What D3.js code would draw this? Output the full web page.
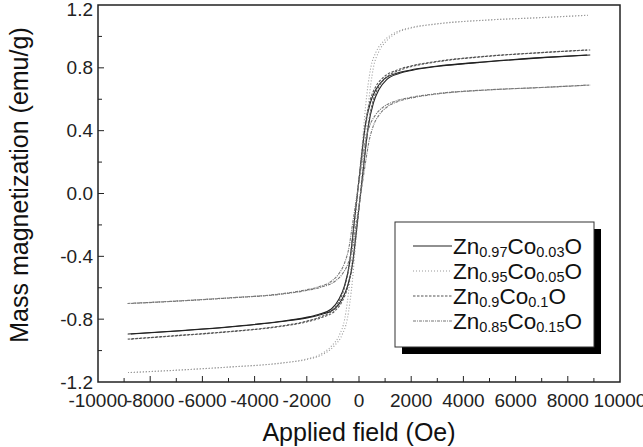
<!DOCTYPE html>
<html>
<head>
<meta charset="utf-8">
<title>M-H loops</title>
<style>
  body { margin: 0; background: #fff; }
  svg { display: block; font-family: "Liberation Sans", Arial, sans-serif; }
</style>
</head>
<body>
<script src="https://cdn.jsdelivr.net/npm/d3@7"></script>
<script>
// applied field grid (Oe) and magnetization (emu/g)
var field = [-8800, -7000, -5000, -3000, -2000, -1500, -1000, -700, -500, -300, -200, -100, 0,
             100, 200, 300, 500, 700, 1000, 1500, 2000, 3000, 5000, 7000, 8800];

var m003 = [-0.895, -0.875, -0.85, -0.815, -0.79, -0.77, -0.735, -0.67, -0.59, -0.44, -0.30, -0.15, 0,
            0.15, 0.30, 0.43, 0.58, 0.66, 0.725, 0.765, 0.785, 0.81, 0.84, 0.865, 0.882];
var m005 = [-1.14, -1.125, -1.105, -1.08, -1.055, -1.03, -0.97, -0.90, -0.80, -0.55, -0.36, -0.18, 0,
            0.18, 0.36, 0.55, 0.80, 0.90, 0.97, 1.03, 1.055, 1.08, 1.105, 1.12, 1.135];
var m010 = [-0.927, -0.905, -0.88, -0.845, -0.815, -0.79, -0.75, -0.685, -0.60, -0.44, -0.30, -0.15, 0,
            0.15, 0.30, 0.44, 0.60, 0.68, 0.74, 0.785, 0.81, 0.84, 0.875, 0.897, 0.914];
var m015 = [-0.70, -0.685, -0.665, -0.64, -0.615, -0.595, -0.56, -0.51, -0.45, -0.33, -0.22, -0.11, 0,
            0.11, 0.22, 0.32, 0.44, 0.50, 0.55, 0.59, 0.61, 0.635, 0.66, 0.675, 0.69];

// coercive field of each loop (Oe)
var coercivity = [60, 50, 60, 70];

var labels = [
  ["Zn", "0.97", "Co", "0.03", "O"],
  ["Zn", "0.95", "Co", "0.05", "O"],
  ["Zn", "0.9", "Co", "0.1", "O"],
  ["Zn", "0.85", "Co", "0.15", "O"]
];

var xTicks = [-10000, -8000, -6000, -4000, -2000, 0, 2000, 4000, 6000, 8000, 10000];
var yTicks = [-1.2, -0.8, -0.4, 0.0, 0.4, 0.8, 1.2];

var styles = [
  { stroke: "#222", dash: null, width: 1.1 },
  { stroke: "#999", dash: "1,2", width: 1.1 },
  { stroke: "#555", dash: "2.5,1.5", width: 1.1 },
  { stroke: "#777", dash: "3,1,1,1", width: 1.1 }
];

var W = 643, H = 447;
var x0 = 98, x1 = 620, y0 = 5, y1 = 382;

var svg = d3.select("body").append("svg")
    .attr("width", W)
    .attr("height", H);

var x = d3.scaleLinear().domain([-10000, 10000]).range([x0, x1]);
var y = d3.scaleLinear().domain([-1.2, 1.2]).range([y1, y0]);

// curves
var series = [m003, m005, m010, m015];
var line = d3.line()
    .x(function(d) { return x(d[0]); })
    .y(function(d) { return y(d[1]); })
    .curve(d3.curveMonotoneX);

series.forEach(function(m, i) {
  var hc = coercivity[i];
  var down = field.map(function(h, j) { return [h - hc, m[j]]; });
  var up = field.map(function(h, j) { return [h + hc, m[j]]; });
  [down, up].forEach(function(branch) {
    svg.append("path")
      .attr("d", line(branch))
      .attr("fill", "none")
      .attr("stroke", styles[i].stroke)
      .attr("stroke-width", styles[i].width)
      .attr("stroke-dasharray", styles[i].dash);
  });
});

// frame
svg.append("rect")
  .attr("x", x0).attr("y", y0)
  .attr("width", x1 - x0).attr("height", y1 - y0)
  .attr("fill", "none")
  .attr("stroke", "#222")
  .attr("stroke-width", 1.5);

// axes with inward ticks
var xMinor = d3.range(-9000, 10000, 1000);
svg.append("g").selectAll("line")
  .data(xMinor)
  .enter().append("line")
    .attr("x1", function(d) { return x(d); })
    .attr("x2", function(d) { return x(d); })
    .attr("y1", y1)
    .attr("y2", function(d) { return d % 2000 === 0 ? y1 - 6 : y1 - 4; })
    .attr("stroke", "#222");

var yMinor = d3.range(-1.0, 1.2, 0.2);
svg.append("g").selectAll("line")
  .data(yMinor)
  .enter().append("line")
    .attr("y1", function(d) { return y(d); })
    .attr("y2", function(d) { return y(d); })
    .attr("x1", x0)
    .attr("x2", function(d) { return Math.abs(Math.round(d * 10)) % 4 === 0 ? x0 + 6 : x0 + 4; })
    .attr("stroke", "#222");

svg.append("g").selectAll("text")
  .data(xTicks)
  .enter().append("text")
    .attr("x", function(d) { return x(d); })
    .attr("y", 407)
    .attr("text-anchor", "middle")
    .attr("font-size", 19)
    .attr("fill", "#222")
    .text(function(d) { return String(d); });

svg.append("g").selectAll("text")
  .data(yTicks)
  .enter().append("text")
    .attr("x", x0 - 5)
    .attr("y", function(d) { return Math.max(y(d), 9); })
    .attr("dy", "0.35em")
    .attr("text-anchor", "end")
    .attr("font-size", 19)
    .attr("fill", "#222")
    .text(function(d) { return d.toFixed(1); });

// axis titles
svg.append("text")
  .attr("x", (x0 + x1) / 2)
  .attr("y", 441)
  .attr("text-anchor", "middle")
  .attr("font-size", 25)
  .attr("fill", "#111")
  .text("Applied field (Oe)");

svg.append("text")
  .attr("transform", "translate(28,185) rotate(-90)")
  .attr("text-anchor", "middle")
  .attr("font-size", 25)
  .attr("fill", "#111")
  .text("Mass magnetization (emu/g)");

// legend
var lg = svg.append("g");
lg.append("rect")
  .attr("x", 402).attr("y", 229)
  .attr("width", 199).attr("height", 125)
  .attr("fill", "#000");
lg.append("rect")
  .attr("x", 395).attr("y", 222)
  .attr("width", 199).attr("height", 125)
  .attr("fill", "#fff")
  .attr("stroke", "#333")
  .attr("stroke-width", 1);

labels.forEach(function(parts, i) {
  var base = 254 + i * 25;
  lg.append("line")
    .attr("x1", 413).attr("x2", 452)
    .attr("y1", base - 8).attr("y2", base - 8)
    .attr("stroke", styles[i].stroke)
    .attr("stroke-width", styles[i].width)
    .attr("stroke-dasharray", styles[i].dash);
  var t = lg.append("text")
    .attr("x", 453)
    .attr("y", base)
    .attr("font-size", 22.5)
    .attr("fill", "#111");
  parts.forEach(function(p, k) {
    var s = t.append("tspan").text(p);
    if (k % 2 === 1) {
      s.attr("font-size", 14.5).attr("dy", 3);
    } else if (k > 0) {
      s.attr("dy", -3);
    }
  });
});
</script>
</body>
</html>
